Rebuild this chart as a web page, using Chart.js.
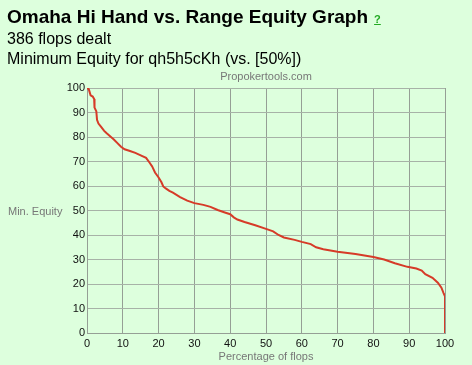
<!DOCTYPE html>
<html>
<head>
<meta charset="utf-8">
<script src="https://cdn.jsdelivr.net/npm/chart.js@4.4.1/dist/chart.umd.min.js"></script>
<style>
    html, body { margin: 0; padding: 0; }
    body {
        width: 472px; height: 365px; overflow: hidden;
        background: #ddffdd;
        font-family: 'Liberation Sans', Arial, sans-serif;
        position: relative;
    }
    .txt { position: absolute; white-space: nowrap; color: #000; }
    #title { left: 7px; top: 7px; font-size: 19px; line-height: 19px; font-weight: bold; }
    #help { color: #22aa22; font-size: 11px; font-weight: bold; text-decoration: underline; margin-left: 6px; }
    #sub1 { left: 7px; top: 31px; font-size: 16px; line-height: 16px; }
    #sub2 { left: 7px; top: 51px; font-size: 16px; line-height: 16px; }
    #site { left: 87px; width: 358px; text-align: center; top: 71px; font-size: 11px; line-height: 11px; color: #777; }
    #ylab { left: 8px; top: 206px; font-size: 11px; line-height: 11px; color: #777; }
    #wrap { position: absolute; left: 0; top: 0; width: 472px; height: 365px; }
</style>
</head>
<body>
<div id="wrap"><canvas id="equityChart"></canvas></div>
<div class="txt" id="title">Omaha Hi Hand vs. Range Equity Graph<span id="help">?</span></div>
<div class="txt" id="sub1">386 flops dealt</div>
<div class="txt" id="sub2">Minimum Equity for qh5h5cKh (vs. [50%])</div>
<div class="txt" id="site">Propokertools.com</div>
<div class="txt" id="ylab">Min. Equity</div>

<script>
// --- Data ---
const flopPct = [
    0, 0.5, 0.8, 1.0, 1.6, 2.0, 2.1, 2.6, 2.8, 3.2, 4.0, 4.8, 5.5, 6.7, 7.5, 8.5, 9.5, 10.5,
    12, 13.5, 15, 16.5, 17.5, 18.2, 19, 20, 20.8, 21.3, 22, 23, 24, 26, 28, 30, 32.5, 34.5,
    36.5, 38.5, 40, 41, 42, 44, 47, 50, 52, 53.5, 55, 58, 60, 62.5, 64, 66, 70, 75, 80, 83,
    86, 89.5, 92, 93.5, 94.5, 96.5, 98, 99, 99.6, 100, 100
];
const minEquity = [
    100, 99.5, 98, 97, 96.5, 95.5, 92, 90.5, 87, 85.5, 84, 82.5, 81.5, 80, 79, 77.5, 76, 75,
    74.3, 73.5, 72.5, 71.5, 69.5, 68, 65.5, 63.5, 61.5, 59.8, 59, 58, 57.3, 55.5, 54, 53, 52.3, 51.5,
    50.2, 49.2, 48.5, 47.2, 46.3, 45.3, 44, 42.5, 41.5, 40, 39, 38, 37.2, 36.3, 35, 34.2, 33.2, 32.2, 31, 30,
    28.5, 27, 26.3, 25.5, 24, 22.5, 20.5, 18.5, 16.3, 15, 0
];
const xTicks = [0, 10, 20, 30, 40, 50, 60, 70, 80, 90, 100];
const yTicks = [0, 10, 20, 30, 40, 50, 60, 70, 80, 90, 100];

const FONT = "'Liberation Sans', Arial, sans-serif";

let equityChart;

function initEquityChart() {
    const ctx = document.getElementById('equityChart');
    if (!ctx || typeof Chart === 'undefined') return;

    const points = flopPct.map((x, i) => ({ x: x, y: minEquity[i] }));

    equityChart = new Chart(ctx, {
        type: 'line',
        data: {
            datasets: [{
                label: 'Min. Equity',
                data: points,
                borderColor: '#d63b28',
                borderWidth: 2,
                pointRadius: 0,
                tension: 0,
                fill: false
            }]
        },
        options: {
            responsive: true,
            maintainAspectRatio: false,
            animation: false,
            layout: { padding: { top: 88, right: 27, left: 0, bottom: 0 } },
            plugins: { legend: { display: false }, tooltip: { enabled: false } },
            scales: {
                x: {
                    type: 'linear', min: 0, max: 100,
                    afterFit: s => { s.height = 32; },
                    afterBuildTicks: s => { s.ticks = xTicks.map(v => ({ value: v })); },
                    grid: { color: '#959f95', drawTicks: false },
                    border: { color: '#959f95' },
                    ticks: { color: '#111', padding: 4, font: { family: FONT, size: 11 } },
                    title: {
                        display: true, text: 'Percentage of flops', color: '#777',
                        font: { family: FONT, size: 11 }, padding: { top: 0, bottom: 1 }
                    }
                },
                y: {
                    min: 0, max: 100,
                    afterFit: s => { s.width = 87; },
                    afterBuildTicks: s => { s.ticks = yTicks.map(v => ({ value: v })); },
                    grid: { color: '#a7b2a7', drawTicks: false },
                    border: { color: '#959f95' },
                    ticks: { color: '#111', padding: 2, font: { family: FONT, size: 11 } }
                }
            }
        }
    });
}

document.addEventListener('DOMContentLoaded', initEquityChart);
</script>
</body>
</html>
